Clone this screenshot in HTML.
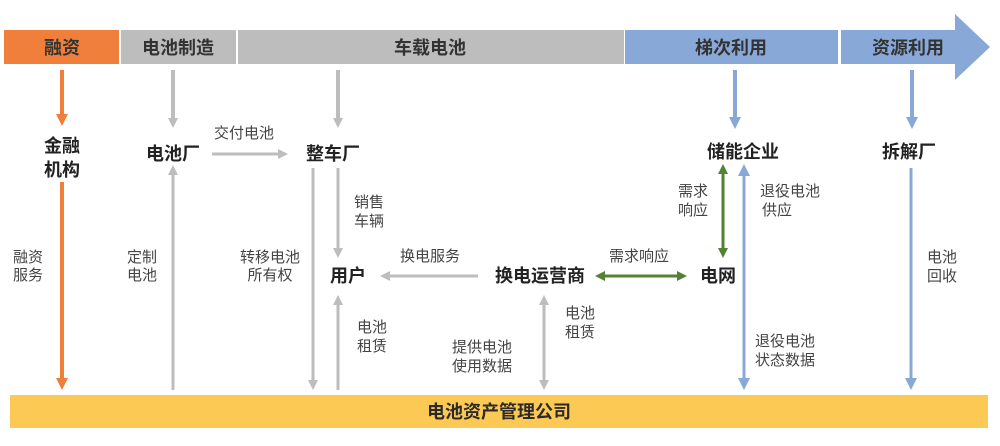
<!DOCTYPE html>
<html><head><meta charset="utf-8"><style>
html,body{margin:0;padding:0;background:#fff}
svg{display:block}
text{font-family:"Liberation Sans","Noto Sans CJK SC",sans-serif}
.h{font-size:18px;font-weight:bold;fill:#333;text-anchor:middle}
.n{font-size:18px;font-weight:bold;fill:#222;text-anchor:middle}
.l{font-size:15px;fill:#444;text-anchor:middle}
</style></head><body>
<svg width="1000" height="446" viewBox="0 0 1000 446">
<defs>
<marker id="g" markerWidth="10" markerHeight="10" refX="5" refY="5" orient="auto-start-reverse" markerUnits="userSpaceOnUse" viewBox="0 0 10 10"><path d="M0,0 L10,5 L0,10z" fill="#bdbdbd"/></marker>
<marker id="o" markerWidth="12" markerHeight="12" refX="6" refY="6" orient="auto-start-reverse" markerUnits="userSpaceOnUse" viewBox="0 0 12 12"><path d="M0,0 L12,6 L0,12z" fill="#f07f3c"/></marker>
<marker id="b" markerWidth="12" markerHeight="12" refX="6" refY="6" orient="auto-start-reverse" markerUnits="userSpaceOnUse" viewBox="0 0 12 12"><path d="M0,0 L12,6 L0,12z" fill="#88a9d8"/></marker>
<marker id="gr" markerWidth="10" markerHeight="10" refX="5" refY="5" orient="auto-start-reverse" markerUnits="userSpaceOnUse" viewBox="0 0 10 10"><path d="M0,0 L10,5 L0,10z" fill="#548235"/></marker>
</defs>
<rect x="4" y="30" width="115" height="34" fill="#f07f3c"/>
<rect x="121" y="30" width="115" height="34" fill="#bdbdbd"/>
<rect x="238" y="30" width="386" height="34" fill="#bdbdbd"/>
<rect x="625" y="30" width="213" height="34" fill="#88a9d8"/>
<path d="M841,30 L955,30 L955,14 L990,47 L955,80 L955,64 L841,64z" fill="#88a9d8"/>
<text class="h" x="62" y="54">融资</text>
<text class="h" x="178" y="54">电池制造</text>
<text class="h" x="430" y="54">车载电池</text>
<text class="h" x="731" y="54">梯次利用</text>
<text class="h" x="908" y="54">资源利用</text>
<rect x="10" y="395" width="978" height="33" fill="#fdc955"/>
<text class="h" x="499" y="418" style="fill:#2a2a2a">电池资产管理公司</text>
<g stroke-width="4" fill="none">
<line x1="62" y1="70" x2="62" y2="120" stroke="#f07f3c" marker-end="url(#o)"/>
<line x1="62" y1="182" x2="62" y2="384" stroke="#f07f3c" marker-end="url(#o)"/>
<line x1="173" y1="70" x2="173" y2="123" stroke="#bdbdbd" marker-end="url(#g)"/>
<line x1="338" y1="70" x2="338" y2="123" stroke="#bdbdbd" marker-end="url(#g)"/>
<line x1="212" y1="154" x2="283" y2="154" stroke="#bdbdbd" stroke-width="3" marker-end="url(#g)"/>
<line x1="313" y1="168" x2="313" y2="385" stroke="#bdbdbd" stroke-width="3" marker-end="url(#g)"/>
<line x1="338" y1="168" x2="338" y2="253" stroke="#bdbdbd" stroke-width="3" marker-end="url(#g)"/>
<line x1="173" y1="390" x2="173" y2="170" stroke="#bdbdbd" stroke-width="3" marker-end="url(#g)"/>
<line x1="338" y1="390" x2="338" y2="300" stroke="#bdbdbd" stroke-width="3" marker-end="url(#g)"/>
<line x1="478" y1="276" x2="385" y2="276" stroke="#bdbdbd" stroke-width="3" marker-end="url(#g)"/>
<line x1="544" y1="300" x2="544" y2="385" stroke="#bdbdbd" stroke-width="3" marker-start="url(#g)" marker-end="url(#g)"/>
<line x1="600" y1="276" x2="682" y2="276" stroke="#548235" stroke-width="3" marker-start="url(#gr)" marker-end="url(#gr)"/>
<line x1="723" y1="169" x2="723" y2="253" stroke="#548235" stroke-width="3" marker-start="url(#gr)" marker-end="url(#gr)"/>
<line x1="744" y1="170" x2="744" y2="384" stroke="#88a9d8" stroke-width="3" marker-start="url(#b)" marker-end="url(#b)"/>
<line x1="735" y1="70" x2="735" y2="123" stroke="#88a9d8" marker-end="url(#b)"/>
<line x1="912" y1="70" x2="912" y2="123" stroke="#88a9d8" marker-end="url(#b)"/>
<line x1="911" y1="168" x2="911" y2="384" stroke="#88a9d8" stroke-width="3" marker-end="url(#b)"/>
</g>
<text class="n" x="62" y="152">金融</text>
<text class="n" x="62" y="176">机构</text>
<text class="n" x="173" y="160">电池厂</text>
<text class="n" x="333" y="160">整车厂</text>
<text class="n" x="348" y="282">用户</text>
<text class="n" x="540" y="282">换电运营商</text>
<text class="n" x="718" y="282">电网</text>
<text class="n" x="743" y="158">储能企业</text>
<text class="n" x="909" y="158">拆解厂</text>
<text class="l" x="244" y="138">交付电池</text>
<text class="l" x="369" y="207">销售</text><text class="l" x="369" y="226">车辆</text>
<text class="l" x="28" y="262">融资</text><text class="l" x="28" y="280">服务</text>
<text class="l" x="142" y="262">定制</text><text class="l" x="142" y="280">电池</text>
<text class="l" x="270" y="262">转移电池</text><text class="l" x="270" y="280">所有权</text>
<text class="l" x="430" y="261">换电服务</text>
<text class="l" x="639" y="261">需求响应</text>
<text class="l" x="372" y="332">电池</text><text class="l" x="372" y="351">租赁</text>
<text class="l" x="482" y="352">提供电池</text><text class="l" x="482" y="371">使用数据</text>
<text class="l" x="580" y="318">电池</text><text class="l" x="580" y="337">租赁</text>
<text class="l" x="693" y="196">需求</text><text class="l" x="693" y="215">响应</text>
<text class="l" x="790" y="196">退役电池</text><text class="l" x="777" y="215">供应</text>
<text class="l" x="785" y="346">退役电池</text><text class="l" x="785" y="365">状态数据</text>
<text class="l" x="942" y="262">电池</text><text class="l" x="942" y="281">回收</text>
</svg>
</body></html>
